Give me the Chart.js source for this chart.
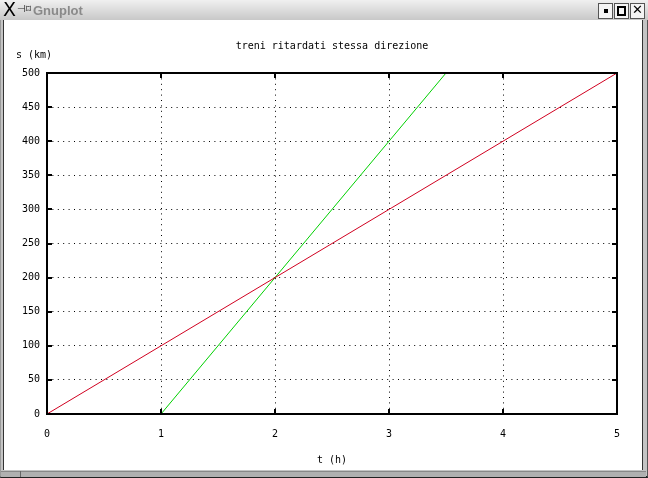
<!DOCTYPE html>
<html>
<head>
<meta charset="utf-8">
<script src="https://cdn.jsdelivr.net/npm/chart.js@4/dist/chart.umd.min.js"></script>
<style>
  html, body { margin: 0; padding: 0; }
  body { width: 648px; height: 478px; position: relative; overflow: hidden; background: #c4c4c4; font-family: "Liberation Sans", Arial, sans-serif; }
  #outer { position: absolute; left: 0; top: 0; width: 646px; height: 476px; border-left: 1px solid #9a9a9a; border-right: 1px solid #555; border-bottom: 2px solid #222; }
  #titlebar { position: absolute; left: 0; top: 0; width: 648px; height: 20px; background: linear-gradient(#f0f0f0, #c8c8c8); z-index: 3; }
  #xlogo { position: absolute; left: 3px; top: 0px; font-size: 19px; line-height: 19px; color: #000; font-family: "DejaVu Sans", sans-serif; }
  #pin { position: absolute; left: 17px; top: 3px; font-size: 10px; color: #222; font-family: "DejaVu Sans", sans-serif; }
  #wtitle { position: absolute; left: 33px; top: 3px; font-size: 13px; font-weight: bold; color: #8a8a8a; font-family: "Liberation Sans Narrow", "Liberation Sans", sans-serif; }
  .btn { position: absolute; top: 3px; width: 13px; height: 14px; background: #f4f4f4; border: 1px solid #555; }
  .btn i { position: absolute; display: block; }
  #client { position: absolute; left: 3px; top: 20px; width: 638px; height: 450px; background: #fff; border-left: 1px solid #333; border-right: 1px solid #333; z-index: 1; }
  #statusbar { position: absolute; left: 1px; top: 471px; width: 645px; height: 5px; background: #b0b0b0; border-top: 1px solid #888; z-index: 1; }
  #sep { position: absolute; left: 20px; top: 471px; width: 1px; height: 6px; background: #666; z-index: 2; }
  #chartwrap { position: absolute; left: 0; top: 0; width: 648px; height: 478px; z-index: 2; }
</style>
</head>
<body>
<div id="outer"></div>
<div id="client"></div>
<div id="statusbar"></div>
<div id="sep"></div>
<div id="titlebar">
  <span id="xlogo">X</span><span id="pin">⊣⌑</span>
  <span id="wtitle">Gnuplot</span>
  <div class="btn" style="left:598px"><i style="left:5px;top:5px;width:4px;height:4px;background:#000"></i></div>
  <div class="btn" style="left:614px"><i style="left:2px;top:2px;width:5px;height:6px;border:2px solid #000"></i></div>
  <div class="btn" style="left:630px"><i style="left:1px;top:-2px;font:bold 13px 'DejaVu Sans',sans-serif;color:#000">✕</i></div>
</div>
<div id="chartwrap"><canvas id="c" width="648" height="478"></canvas></div>
<script>
// ---- data ----
const chartTitle = "treni ritardati stessa direzione";
const xAxisLabel = "t (h)";
const yAxisLabel = "s (km)";
const redT = [0, 5];
const redS = [0, 500];
const greenT = [1, 3.5];
const greenS = [0, 500];
const xMin = 0, xMax = 5, xStep = 1;
const yMin = 0, yMax = 500, yStep = 50;

const toPts = (xs, ys) => xs.map((x, i) => ({ x: x, y: ys[i] }));
const FONT = "'DejaVu Sans Mono', monospace";

const framePlugin = {
  id: 'gnuframe',
  afterDatasetsDraw(chart) {
    const { ctx, chartArea: a, scales } = chart;
    ctx.save();
    ctx.strokeStyle = '#000';
    ctx.lineWidth = 2;
    ctx.strokeRect(a.left, a.top, a.right - a.left, a.bottom - a.top);
    const L = 5;
    ctx.beginPath();
    scales.x.ticks.forEach(t => {
      const px = Math.round(scales.x.getPixelForValue(t.value));
      ctx.moveTo(px, a.bottom); ctx.lineTo(px, a.bottom - L);
      ctx.moveTo(px, a.top); ctx.lineTo(px, a.top + L);
    });
    scales.y.ticks.forEach(t => {
      const py = Math.round(scales.y.getPixelForValue(t.value));
      ctx.moveTo(a.left, py); ctx.lineTo(a.left + L, py);
      ctx.moveTo(a.right, py); ctx.lineTo(a.right - L, py);
    });
    ctx.stroke();
    // y-axis label, horizontal above the axis
    ctx.fillStyle = '#000';
    ctx.font = "10px " + FONT;
    ctx.textAlign = 'left';
    ctx.textBaseline = 'middle';
    ctx.fillText(yAxisLabel, 16, 55);
    ctx.restore();
  }
};

new Chart(document.getElementById('c'), {
  type: 'line',
  data: {
    datasets: [
      { data: toPts(redT, redS), borderColor: '#d00020', borderWidth: 1, pointRadius: 0, fill: false, tension: 0 },
      { data: toPts(greenT, greenS), borderColor: '#00d000', borderWidth: 1, pointRadius: 0, fill: false, tension: 0 }
    ]
  },
  options: {
    responsive: false,
    animation: false,
    devicePixelRatio: 1,
    layout: { padding: { left: 0, right: 31, top: 0, bottom: 0 } },
    plugins: {
      legend: { display: false },
      tooltip: { enabled: false },
      title: {
        display: true,
        fullSize: false,
        text: chartTitle,
        color: '#000',
        font: { family: FONT, size: 10, weight: 'normal', lineHeight: 1.2 },
        padding: { top: 40.5, bottom: 20.5 }
      }
    },
    scales: {
      x: {
        type: 'linear',
        min: xMin, max: xMax,
        afterFit: s => { s.height = 64; },
        ticks: { stepSize: xStep, color: '#000', font: { family: FONT, size: 10, lineHeight: 1.2 }, padding: 14, maxRotation: 0 },
        grid: { color: '#000', lineWidth: 1, drawTicks: false },
        border: { display: false, dash: [1, 4.4] },
        title: { display: true, text: xAxisLabel, color: '#000', font: { family: FONT, size: 10, lineHeight: 1.2 }, padding: { top: 0, bottom: 12 } }
      },
      y: {
        type: 'linear',
        min: yMin, max: yMax,
        afterFit: s => { s.width = 47; },
        ticks: { stepSize: yStep, color: '#000', font: { family: FONT, size: 10, lineHeight: 1.2 }, padding: 7 },
        grid: { color: '#000', lineWidth: 1, drawTicks: false },
        border: { display: false, dash: [1, 4.4] }
      }
    }
  },
  plugins: [framePlugin]
});
</script>
</body>
</html>
